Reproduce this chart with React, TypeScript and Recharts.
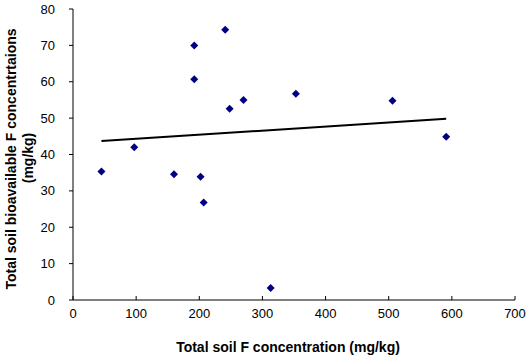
import { ScatterChart, Scatter, XAxis, YAxis } from 'recharts'

const soilF = [45, 97, 160, 202, 207, 192, 192, 241, 248, 270, 353, 506, 591, 313]
const bioF = [35.3, 42.0, 34.6, 33.9, 26.8, 70.0, 60.7, 74.3, 52.6, 55.0, 56.7, 54.8, 44.9, 3.3]
const trendX = [45, 591]
const trendY = [43.7, 49.8]
const xTicks = [0, 100, 200, 300, 400, 500, 600, 700]
const yTicks = [0, 10, 20, 30, 40, 50, 60, 70, 80]

const points = soilF.map((x, i) => ({ x, y: bioF[i] }))
const trend = trendX.map((x, i) => ({ x, y: trendY[i] }))

const font = "'Liberation Sans', Arial, sans-serif"

const Diamond = (props: any) => {
  const { cx, cy } = props
  return <polygon points={`${cx},${cy - 4} ${cx + 4},${cy} ${cx},${cy + 4} ${cx - 4},${cy}`} fill='#000080' />
}

const NoDot = () => <g />

const XTick = (props: any) => {
  const { x, y, payload } = props
  return (
    <g>
      <line x1={x} x2={x} y1={y - 4} y2={y} stroke='#000' />
      <text x={x} y={y + 18} textAnchor='middle' fontSize={13} fontFamily={font} fill='#000'>
        {payload.value}
      </text>
    </g>
  )
}

const XTitle = () => (
  <text x={288} y={352} textAnchor='middle' fontFamily={font} fontWeight='bold' fontSize={14} fill='#000'>
    Total soil F concentration (mg/kg)
  </text>
)

const YTitle = () => (
  <g fontFamily={font} fontWeight='bold' fontSize={14} fill='#000'>
    <text x={16} y={159} textAnchor='middle' transform='rotate(-90 16 159)'>
      Total soil bioavailable F concentrtaions
    </text>
    <text x={33} y={158} textAnchor='middle' transform='rotate(-90 33 158)'>
      (mg/kg)
    </text>
  </g>
)

export default function App() {
  return (
    <div style={{ position: 'absolute', left: 0, top: 0, background: '#fff' }}>
      <ScatterChart width={529} height={357} margin={{ top: 9, right: 14, bottom: 0, left: 0 }}>
        <XAxis
          type='number'
          dataKey='x'
          domain={[0, 700]}
          ticks={xTicks}
          tickSize={0}
          tickMargin={0}
          tickLine={false}
          axisLine={{ stroke: '#000' }}
          tick={<XTick />}
          height={57}
          label={<XTitle />}
        />
        <YAxis
          type='number'
          dataKey='y'
          domain={[0, 80]}
          ticks={yTicks}
          width={73}
          tickSize={4}
          tickMargin={14}
          tickLine={{ stroke: '#000' }}
          axisLine={{ stroke: '#000' }}
          tick={{ fontSize: 13, fontFamily: font, fill: '#000' }}
          label={<YTitle />}
        />
        <Scatter data={points} shape={<Diamond />} isAnimationActive={false} />
        <Scatter
          data={trend}
          line={{ stroke: '#000', strokeWidth: 2 }}
          shape={<NoDot />}
          isAnimationActive={false}
        />
      </ScatterChart>
    </div>
  )
}
